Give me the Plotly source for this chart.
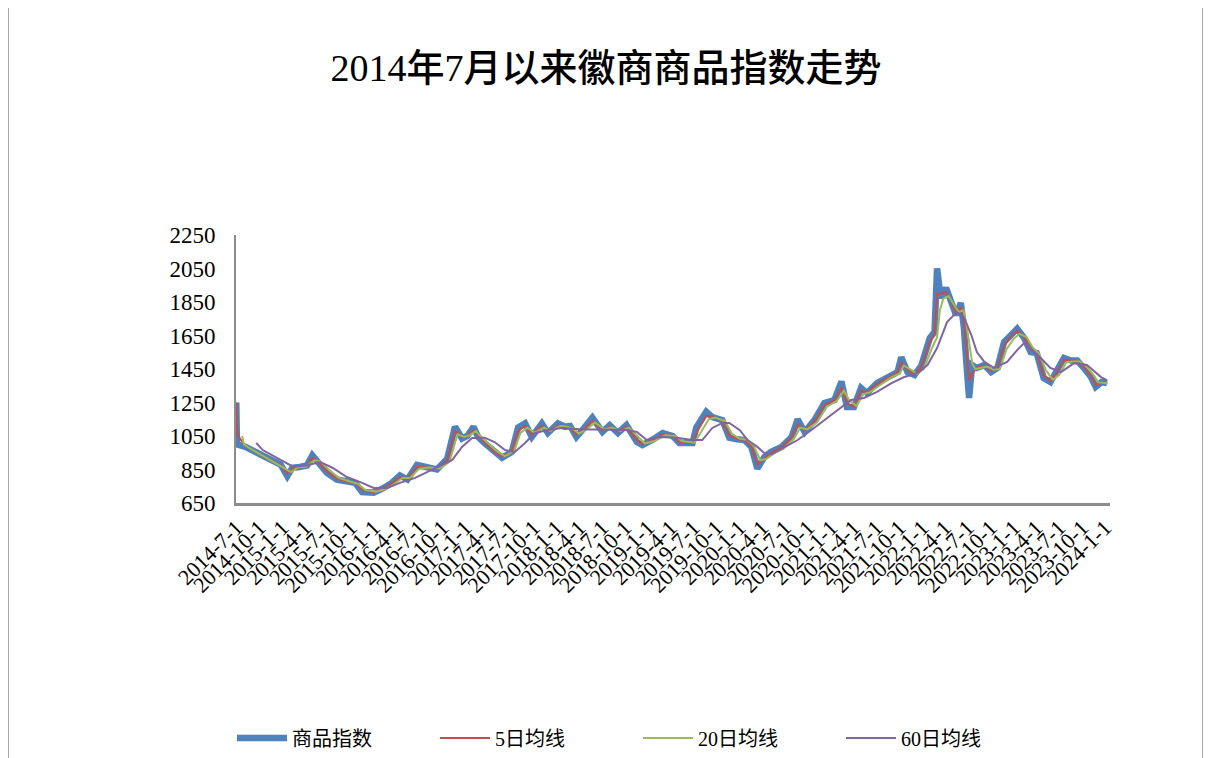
import plotly.graph_objects as go

title_text = "2014年7月以来徽商商品指数走势"

idx_dates = [
    "2014-07-01", "2014-07-04", "2014-08-06", "2014-09-15", "2014-10-15", "2014-11-22", "2014-12-25", "2015-01-21", "2015-02-10", "2015-03-12",
    "2015-04-10", "2015-05-01", "2015-05-22", "2015-06-28", "2015-08-07", "2015-09-16", "2015-10-19", "2015-11-16", "2016-01-01", "2016-02-10",
    "2016-03-13", "2016-04-15", "2016-05-15", "2016-06-22", "2016-08-01", "2016-09-10", "2016-10-21", "2016-11-21", "2016-12-19", "2017-01-09",
    "2017-02-03", "2017-02-21", "2017-03-19", "2017-04-28", "2017-05-28", "2017-07-06", "2017-07-31", "2017-08-28", "2017-09-24", "2017-11-03",
    "2017-11-27", "2018-01-06", "2018-02-03", "2018-02-24", "2018-03-21", "2018-04-22", "2018-05-24", "2018-07-03", "2018-08-01", "2018-09-03",
    "2018-10-07", "2018-11-18", "2018-12-10", "2019-01-21", "2019-03-01", "2019-04-10", "2019-05-06", "2019-06-28", "2019-07-13", "2019-08-22",
    "2019-09-15", "2019-10-25", "2019-11-22", "2019-12-22", "2020-01-21", "2020-02-18", "2020-03-13", "2020-04-10", "2020-05-07", "2020-06-18",
    "2020-07-28", "2020-08-21", "2020-09-18", "2020-10-27", "2020-12-06", "2021-01-15", "2021-02-12", "2021-03-06", "2021-04-03", "2021-05-01",
    "2021-05-25", "2021-07-04", "2021-08-15", "2021-09-24", "2021-10-09", "2021-11-03", "2021-12-01", "2021-12-28", "2022-01-31", "2022-02-19",
    "2022-03-01", "2022-03-16", "2022-04-06", "2022-04-25", "2022-05-16", "2022-06-04", "2022-06-16", "2022-06-28", "2022-07-07", "2022-07-19",
    "2022-08-07", "2022-09-06", "2022-10-03", "2022-10-28", "2022-11-24", "2022-12-22", "2023-01-15", "2023-02-12", "2023-03-10", "2023-04-03",
    "2023-05-01", "2023-05-28", "2023-06-22", "2023-07-21", "2023-08-18", "2023-09-12", "2023-10-09", "2023-11-06", "2023-11-25", "2023-12-19",
    "2024-01-09",
]

idx_values = [
    1250, 1000, 985, 955, 925, 895, 880, 810, 860, 865,
    875, 935, 895, 830, 790, 775, 770, 715, 712, 740,
    770, 815, 790, 877, 862, 850, 915, 1105, 1035, 1050,
    1104, 1045, 1008, 950, 920, 955, 1100, 1125, 1045, 1125,
    1068, 1125, 1105, 1110, 1045, 1100, 1160, 1075, 1115, 1068,
    1115, 1014, 996, 1030, 1068, 1050, 1008, 1008, 1100, 1195,
    1163, 1145, 1040, 1030, 1026, 985, 855, 925, 955, 985,
    1044, 1150, 1074, 1145, 1247, 1265, 1375, 1223, 1223, 1337,
    1307, 1366, 1402, 1432, 1520, 1432, 1414, 1470, 1635, 1671,
    2050, 1874, 1934, 1850, 1772, 1845, 1700, 1450, 1277, 1474,
    1456, 1474, 1432, 1456, 1611, 1653, 1690, 1635, 1551, 1545,
    1396, 1372, 1432, 1516, 1500, 1500, 1456, 1402, 1343, 1372,
    1366,
]

ma5_values = [
    1250, 1060, 990, 958, 928, 898, 875, 830, 850, 862,
    872, 920, 900, 840, 795, 778, 770, 728, 715, 738,
    768, 805, 795, 865, 862, 852, 905, 1080, 1045, 1048,
    1085, 1055, 1012, 955, 928, 950, 1080, 1110, 1060, 1110,
    1075, 1112, 1105, 1100, 1060, 1092, 1140, 1082, 1105, 1075,
    1105, 1025, 1002, 1025, 1060, 1050, 1015, 1008, 1070, 1170,
    1165, 1140, 1055, 1032, 1026, 990, 880, 915, 950, 982,
    1040, 1120, 1085, 1135, 1235, 1262, 1340, 1245, 1225, 1320,
    1310, 1360, 1398, 1430, 1490, 1445, 1418, 1462, 1610, 1660,
    1900, 1900, 1910, 1860, 1785, 1820, 1740, 1520, 1380, 1420,
    1458, 1470, 1440, 1452, 1590, 1645, 1678, 1642, 1565, 1545,
    1415, 1378, 1425, 1505, 1500, 1498, 1462, 1410, 1355, 1368,
    1368,
]

ma20_dates = [
    "2014-07-25", "2014-07-31", "2014-08-20", "2014-09-25", "2014-10-28", "2014-12-05", "2015-01-10", "2015-02-05", "2015-03-01", "2015-04-05",
    "2015-05-10", "2015-05-31", "2015-07-05", "2015-08-15", "2015-09-25", "2015-10-28", "2015-11-30", "2016-01-10", "2016-02-20", "2016-03-25",
    "2016-04-25", "2016-05-25", "2016-07-01", "2016-08-10", "2016-09-20", "2016-10-30", "2016-12-01", "2016-12-28", "2017-01-20", "2017-02-12",
    "2017-03-05", "2017-03-30", "2017-05-08", "2017-06-08", "2017-07-15", "2017-08-10", "2017-09-06", "2017-10-05", "2017-11-12", "2017-12-06",
    "2018-01-16", "2018-02-13", "2018-03-06", "2018-03-31", "2018-05-02", "2018-06-03", "2018-07-12", "2018-08-10", "2018-09-12", "2018-10-17",
    "2018-11-28", "2018-12-20", "2019-01-31", "2019-03-11", "2019-04-20", "2019-05-16", "2019-07-06", "2019-07-23", "2019-09-01", "2019-09-25",
    "2019-11-04", "2019-12-02", "2020-01-01", "2020-01-31", "2020-02-28", "2020-03-25", "2020-04-20", "2020-05-17", "2020-06-28", "2020-08-07",
    "2020-08-31", "2020-09-28", "2020-11-06", "2020-12-16", "2021-01-25", "2021-02-22", "2021-03-16", "2021-04-13", "2021-05-11", "2021-06-04",
    "2021-07-14", "2021-08-25", "2021-10-04", "2021-10-19", "2021-11-13", "2021-12-11", "2022-01-07", "2022-02-10", "2022-03-01", "2022-03-12",
    "2022-03-26", "2022-04-16", "2022-05-05", "2022-05-26", "2022-06-14", "2022-06-26", "2022-07-08", "2022-07-20", "2022-08-01", "2022-08-17",
    "2022-09-16", "2022-10-13", "2022-11-07", "2022-12-04", "2023-01-01", "2023-01-25", "2023-02-22", "2023-03-20", "2023-04-13", "2023-05-11",
    "2023-06-07", "2023-07-02", "2023-07-31", "2023-08-28", "2023-09-22", "2023-10-19", "2023-11-16", "2023-12-05", "2023-12-29", "2024-01-12",
]

ma20_values = [
    1050, 1000, 980, 950, 920, 890, 860, 835, 860, 868,
    905, 900, 850, 800, 780, 765, 728, 718, 735, 765,
    800, 800, 855, 862, 855, 895, 1060, 1045, 1055, 1080,
    1045, 1010, 958, 930, 960, 1070, 1100, 1070, 1100, 1080,
    1110, 1105, 1095, 1065, 1090, 1130, 1090, 1100, 1080, 1100,
    1035, 1005, 1022, 1055, 1050, 1020, 1010, 1050, 1150, 1160,
    1140, 1065, 1035, 1028, 990, 905, 915, 945, 978, 1035,
    1100, 1090, 1130, 1225, 1260, 1320, 1260, 1230, 1300, 1310,
    1350, 1395, 1425, 1470, 1450, 1420, 1450, 1580, 1640, 1800,
    1870, 1885, 1840, 1790, 1800, 1720, 1600, 1480, 1450, 1455,
    1465, 1445, 1450, 1570, 1630, 1660, 1640, 1575, 1540, 1440,
    1385, 1415, 1490, 1495, 1495, 1465, 1415, 1370, 1365, 1365,
]

ma60_dates = [
    "2014-09-19", "2014-10-15", "2014-12-25", "2015-02-15", "2015-04-10", "2015-06-01", "2015-07-22", "2015-09-16", "2015-11-09", "2016-01-01",
    "2016-02-24", "2016-04-15", "2016-06-15", "2016-09-03", "2016-11-10", "2016-12-19", "2017-01-28", "2017-03-19", "2017-04-28", "2017-06-09",
    "2017-07-18", "2017-08-28", "2017-10-06", "2017-11-27", "2018-01-22", "2018-04-03", "2018-06-22", "2018-10-07", "2018-11-18", "2018-12-27",
    "2019-02-18", "2019-04-24", "2019-06-28", "2019-08-06", "2019-09-15", "2019-10-25", "2019-11-22", "2020-01-03", "2020-02-03", "2020-03-13",
    "2020-04-10", "2020-05-07", "2020-07-01", "2020-08-21", "2020-10-15", "2020-12-06", "2021-01-28", "2021-03-22", "2021-05-13", "2021-07-04",
    "2021-08-31", "2021-10-21", "2021-12-12", "2022-01-22", "2022-03-01", "2022-04-10", "2022-05-19", "2022-06-16", "2022-07-16", "2022-08-07",
    "2022-09-06", "2022-10-16", "2022-12-06", "2023-01-15", "2023-02-12", "2023-03-10", "2023-04-19", "2023-05-28", "2023-07-09", "2023-08-31",
    "2023-10-21", "2023-12-16", "2024-01-09",
]

ma60_values = [
    1008, 966, 907, 865, 875, 895, 859, 805, 775, 740,
    740, 770, 800, 859, 907, 985, 1038, 1040, 1014, 966,
    955, 1008, 1068, 1086, 1098, 1090, 1090, 1086, 1074, 1026,
    1044, 1040, 1026, 1026, 1098, 1128, 1128, 1085, 1026, 985,
    948, 940, 985, 1026, 1086, 1145, 1205, 1265, 1277, 1313,
    1366, 1402, 1426, 1474, 1575, 1730, 1790, 1760, 1653, 1551,
    1492, 1456, 1492, 1563, 1605, 1575, 1516, 1456, 1432, 1485,
    1474, 1402, 1384,
]

tick_dates = [
    "2014-07-01", "2014-10-01", "2015-01-01", "2015-04-01", "2015-07-01", "2015-10-01", "2016-01-01", "2016-04-01", "2016-07-01", "2016-10-01",
    "2017-01-01", "2017-04-01", "2017-07-01", "2017-10-01", "2018-01-01", "2018-04-01", "2018-07-01", "2018-10-01", "2019-01-01", "2019-04-01",
    "2019-07-01", "2019-10-01", "2020-01-01", "2020-04-01", "2020-07-01", "2020-10-01", "2021-01-01", "2021-04-01", "2021-07-01", "2021-10-01",
    "2022-01-01", "2022-04-01", "2022-07-01", "2022-10-01", "2023-01-01", "2023-04-01", "2023-07-01", "2023-10-01", "2024-01-01",
]
tick_labels = [
    "2014-7-1", "2014-10-1", "2015-1-1", "2015-4-1", "2015-7-1", "2015-10-1", "2016-1-1", "2016-4-1", "2016-7-1", "2016-10-1",
    "2017-1-1", "2017-4-1", "2017-7-1", "2017-10-1", "2018-1-1", "2018-4-1", "2018-7-1", "2018-10-1", "2019-1-1", "2019-4-1",
    "2019-7-1", "2019-10-1", "2020-1-1", "2020-4-1", "2020-7-1", "2020-10-1", "2021-1-1", "2021-4-1", "2021-7-1", "2021-10-1",
    "2022-1-1", "2022-4-1", "2022-7-1", "2022-10-1", "2023-1-1", "2023-4-1", "2023-7-1", "2023-10-1", "2024-1-1",
]
y_ticks = [650, 850, 1050, 1250, 1450, 1650, 1850, 2050, 2250]

FONT = "Liberation Serif, 'Times New Roman', 'Noto Sans CJK SC', serif"
W, H = 1211, 758
OFF = 8  # page offset of the figure div
L, R, T, B = 236 - OFF, 1110 - OFF, 235 - OFF, 503 - OFF

fig = go.Figure()
fig.add_trace(go.Scatter(x=idx_dates, y=idx_values, mode="lines", name="商品指数",
                         line=dict(color="#4F81BD", width=6.5)))
fig.add_trace(go.Scatter(x=idx_dates, y=ma5_values, mode="lines", name="5日均线",
                         line=dict(color="#C0504D", width=2)))
fig.add_trace(go.Scatter(x=ma20_dates, y=ma20_values, mode="lines", name="20日均线",
                         line=dict(color="#9BBB59", width=2)))
fig.add_trace(go.Scatter(x=ma60_dates, y=ma60_values, mode="lines", name="60日均线",
                         line=dict(color="#8064A2", width=2)))

def px_x(p):
    return (p - OFF - L) / (R - L)

def px_y(p):
    return (B - (p - OFF)) / (B - T)

fig.update_layout(
    width=W, height=H,
    margin=dict(l=L, r=W - R, t=T, b=H - B, autoexpand=False),
    paper_bgcolor="white", plot_bgcolor="white",
    font=dict(family=FONT, color="black", size=20),
    title=dict(text=title_text, x=(606 - OFF) / W, xanchor="center", xref="container",
               y=1 - (68 - OFF) / H, yanchor="middle", yref="container",
               font=dict(family=FONT, size=38, color="black", weight=500)),
    showlegend=True,
    legend=dict(orientation="h", x=px_x(232), xanchor="left", y=px_y(738), yanchor="middle",
                font=dict(family=FONT, size=20, color="black"),
                entrywidth=138, entrywidthmode="pixels", itemwidth=50,
                bgcolor="rgba(0,0,0,0)"),
    xaxis=dict(type="date", range=["2014-06-30", "2024-01-21"],
               tickmode="array", tickvals=tick_dates, ticktext=tick_labels,
               tickangle=-45, tickfont=dict(family=FONT, size=22, color="black"),
               showgrid=False, zeroline=False, showline=True, linecolor="#8c8c8c", linewidth=3,
               ticks="", fixedrange=True),
    yaxis=dict(range=[650, 2250], tickmode="array", tickvals=y_ticks,
               tickfont=dict(family=FONT, size=23, color="black"),
               showgrid=False, zeroline=False, showline=True, linecolor="#8c8c8c", linewidth=2,
               ticks="", ticklen=0, ticklabelstandoff=14, fixedrange=True),
    hovermode=False,
    shapes=[dict(type="rect", xref="paper", yref="paper",
                 x0=px_x(8), x1=px_x(1203), y0=px_y(775), y1=px_y(5),
                 line=dict(color="#8c8c8c", width=1.5), fillcolor="rgba(0,0,0,0)", layer="below")],
)

fig.write_html("out.html")
